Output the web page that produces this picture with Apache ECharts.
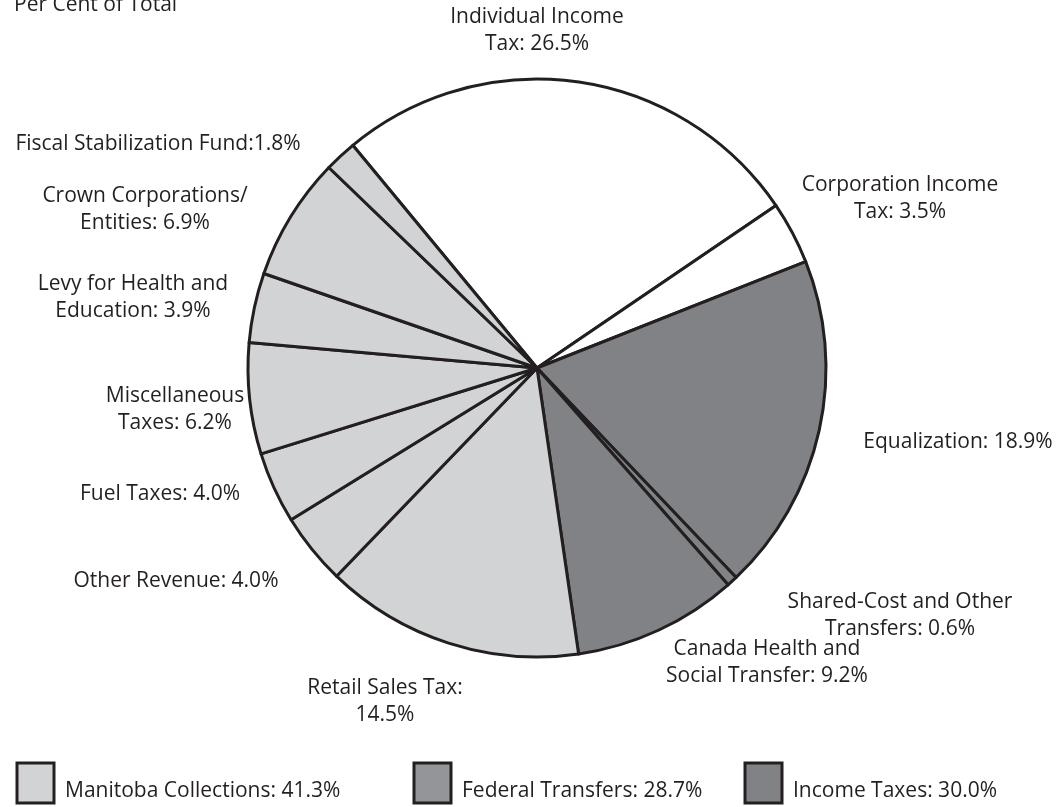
<!DOCTYPE html>
<html>
<head>
<meta charset="utf-8">
<script src="https://cdn.jsdelivr.net/npm/echarts@6/dist/echarts.min.js"></script>
<style>
  html, body { margin: 0; padding: 0; background: #fff; }
  #main { width: 1063px; height: 807px; }
</style>
</head>
<body>
<div id="main"></div>
<script>
// slices, clockwise from Individual Income Tax
var categories = [
  'Individual Income\nTax', 'Corporation Income\nTax', 'Equalization',
  'Shared-Cost and Other\nTransfers', 'Canada Health and\nSocial Transfer',
  'Retail Sales Tax:\n', 'Other Revenue', 'Fuel Taxes', 'Miscellaneous\nTaxes',
  'Levy for Health and\nEducation', 'Crown Corporations/\nEntities', 'Fiscal Stabilization Fund'
];
var values = [26.5, 3.5, 18.9, 0.6, 9.2, 14.5, 4.0, 4.0, 6.2, 3.9, 6.9, 1.8];
var groups = ['income', 'income', 'federal', 'federal', 'federal', 'mb', 'mb', 'mb', 'mb', 'mb', 'mb', 'mb'];

var legendNames = ['Manitoba Collections', 'Federal Transfers', 'Income Taxes'];
var legendValues = [41.3, 28.7, 30.0];

var ink = '#231f20';
var groupColor = { income: '#ffffff', federal: '#808285', mb: '#d1d3d4' };
var legendColor = ['#d1d3d4', '#939598', '#808285'];

// label centres (px)
var labelPos = [
  [537, 31], [900, 199], [958, 442], [900, 616], [767, 663], [385, 702],
  [176, 581], [160, 494], [175, 410], [133, 298], [145, 210], [158, 144]
];

var fontFamily = '"Open Sans", Lato, sans-serif';

function labelText(i) {
  var n = categories[i];
  var v = values[i].toFixed(1) + '%';
  if (n.slice(-2) === ':\n') return n + v;
  if (i === 11) return n + ':' + v;
  return n + ': ' + v;
}

var chart = echarts.init(document.getElementById('main'));

var legendGraphics = [];
var legendX = [17, 414, 745];
legendNames.forEach(function (name, i) {
  legendGraphics.push({
    type: 'rect',
    shape: { x: legendX[i], y: 763, width: 37, height: 40 },
    style: { fill: legendColor[i], stroke: ink, lineWidth: 3 }
  });
  legendGraphics.push({
    type: 'text',
    x: legendX[i] + 48,
    y: 791,
    style: {
      text: name + ': ' + legendValues[i].toFixed(1) + '%',
      font: '21px ' + fontFamily,
      fill: ink,
      textVerticalAlign: 'middle'
    }
  });
});

chart.setOption({
  animation: false,
  title: {
    text: 'Per Cent of Total',
    left: 9,
    top: -10,
    textStyle: { fontFamily: fontFamily, fontSize: 21, fontWeight: 'normal', color: ink }
  },
  graphic: legendGraphics,
  series: [{
    type: 'pie',
    center: [537, 368],
    radius: [0, 289],
    startAngle: 129.6,
    clockwise: true,
    avoidLabelOverlap: false,
    itemStyle: { borderColor: ink, borderWidth: 3 },
    label: {
      show: true,
      position: 'outside',
      formatter: function (p) { return labelText(p.dataIndex); },
      fontFamily: fontFamily,
      fontSize: 21,
      lineHeight: 27,
      color: ink,
      align: 'center'
    },
    labelLine: { show: false },
    labelLayout: function (p) {
      var pos = labelPos[p.dataIndex];
      return { x: pos[0], y: pos[1], align: 'center', verticalAlign: 'middle' };
    },
    emphasis: { disabled: true },
    data: values.map(function (v, i) {
      return { name: categories[i], value: v, itemStyle: { color: groupColor[groups[i]] } };
    })
  }]
});
</script>
</body>
</html>
